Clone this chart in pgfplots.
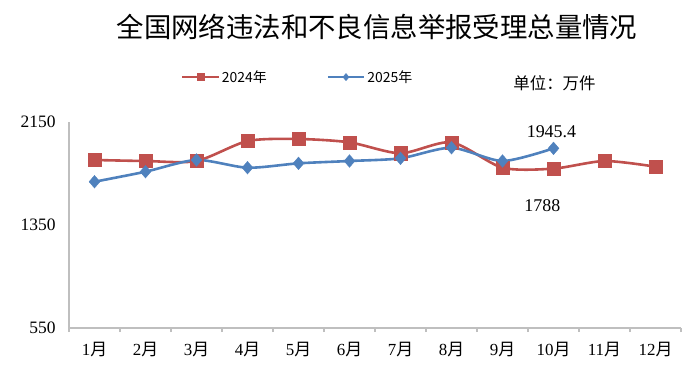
\documentclass[border=0pt]{standalone}
\usepackage{pgfplots}
\pgfplotsset{compat=1.18}
\usepackage{fontspec}
\setmainfont{Liberation Serif}
\newfontfamily\cjk{Noto Sans CJK SC}
\definecolor{redA}{HTML}{C0504D}
\definecolor{blueA}{HTML}{4F81BD}
\definecolor{axgray}{HTML}{BFBFBF}
\begin{document}
\begin{tikzpicture}[x=1bp,y=1bp]
\useasboundingbox (0,0) rectangle (700,373);
\node[font=\cjk\fontsize{27.5}{28}\selectfont] at (377,346) {全国网络违法和不良信息举报受理总量情况};
\node[font=\cjk\fontsize{16.5}{17}\selectfont] at (554.5,290) {单位：万件};
\begin{axis}[
  at={(69bp,45bp)}, anchor=south west,
  width=612bp, height=206bp, scale only axis,
  xmin=0.5, xmax=12.5, ymin=550, ymax=2150,
  axis lines*=left,
  axis line style={draw=axgray, line width=1.2bp},
  xtick={1,...,12},
  xticklabels={1{\cjk 月},2{\cjk 月},3{\cjk 月},4{\cjk 月},5{\cjk 月},6{\cjk 月},7{\cjk 月},8{\cjk 月},9{\cjk 月},10{\cjk 月},11{\cjk 月},12{\cjk 月}},
  minor xtick={0.5,1.5,...,12.5},
  ytick={550,1350,2150},
  major tick length=0pt,
  minor tick length=4bp,
  tick style={draw=axgray, line width=1.2bp},
  tick align=outside,
  /pgf/number format/assume math mode=true,
  /pgf/number format/1000 sep={},
  yticklabel style={font=\fontsize{17.5}{18}\selectfont, xshift=-10bp},
  xticklabel style={font=\fontsize{17}{17}\selectfont, yshift=-11bp},
  clip=false,
  legend columns=2,
  legend style={at={(0.183,1.218)}, anchor=west, draw=none, fill=none, inner sep=0pt,
    font=\cjk\fontsize{14}{14}\selectfont,
    /tikz/every even column/.append style={column sep=58bp}},
  legend image code/.code={\draw[mark repeat=2,mark phase=2,#1,mark size=3.6bp] plot coordinates {(0bp,0bp) (18bp,0bp) (36bp,0bp)};},
]
\addplot[redA, line width=2.6bp, smooth, tension=0.45, mark=square*, mark size=6.6bp,
  mark options={solid, line width=0.4bp}]
  coordinates {(1,1855) (2,1847) (3,1847) (4,2002) (5,2018) (6,1992) (7,1907) (8,1992) (9,1795) (10,1788) (11,1847) (12,1803)};
\addlegendentry{2024年}
\addplot[blueA, line width=2.6bp, smooth, tension=0.45, mark=diamond*, mark size=6.3bp,
  mark options={solid, line width=0.4bp, xscale=1.15}]
  coordinates {(1,1686) (2,1764) (3,1855) (4,1795) (5,1829) (6,1847) (7,1868) (8,1950) (9,1847) (10,1945.4)};
\addlegendentry{2025年}
\node[font=\fontsize{18}{18}\selectfont] at (axis cs:9.96,2072) {1945.4};
\node[font=\fontsize{18}{18}\selectfont] at (axis cs:9.78,1497) {1788};
\end{axis}
\end{tikzpicture}
\end{document}
